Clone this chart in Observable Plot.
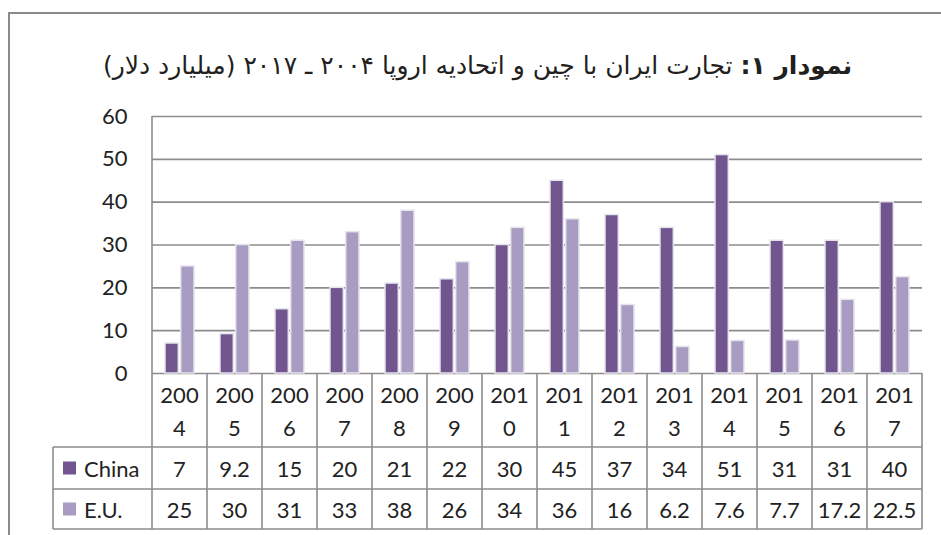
<!DOCTYPE html>
<html><head><meta charset="utf-8">
<script src="https://cdn.jsdelivr.net/npm/d3@7"></script>
<script src="https://cdn.jsdelivr.net/npm/@observablehq/plot@0.6"></script>
<style>
body{margin:0;background:#fff;}
#wrap{position:relative;width:941px;height:535px;overflow:hidden;background:#fff;}
#frame{position:absolute;left:8px;top:12px;width:940px;height:530px;border-left:2px solid #8a8a8a;border-top:2px solid #8a8a8a;}
#title{position:absolute;left:7px;width:941px;top:49px;line-height:34px;text-align:center;direction:rtl;font-family:"DejaVu Sans",sans-serif;font-size:25px;color:#231f20;white-space:nowrap;}
#chart{position:absolute;left:0;top:90px;}
</style></head>
<body>
<div id="wrap">
  <div id="frame"></div>
  <div id="title"><b>نمودار ۱:</b> تجارت ایران با چین و اتحادیه اروپا ۲۰۰۴ ـ ۲۰۱۷ (میلیارد دلار)</div>
  <div id="chart"></div>
</div>
<script>
const years = ["2004","2005","2006","2007","2008","2009","2010","2011","2012","2013","2014","2015","2016","2017"];
const china = [7, 9.2, 15, 20, 21, 22, 30, 45, 37, 34, 51, 31, 31, 40];
const eu = [25, 30, 31, 33, 38, 26, 34, 36, 16, 6.2, 7.6, 7.7, 17.2, 22.5];
const seriesNames = ["China", "E.U."];
const seriesColors = ["#71558f", "#a99cc2"];
const yTicks = [0, 10, 20, 30, 40, 50, 60];

const table = years.map((year, i) => ({year, china: china[i], eu: eu[i]}));

const gridColor = "#8c8c8c";
const plot = Plot.plot({
  width: 941,
  height: 445,
  marginTop: 26,
  marginLeft: 152,
  marginRight: 19,
  marginBottom: 162,
  style: {fontFamily: "Lato, sans-serif", fontSize: "22px", color: "#222", background: "transparent", overflow: "visible"},
  x: {domain: years, padding: 0, axis: null},
  y: {domain: [0, 60], ticks: yTicks, tickSize: 0, tickPadding: 25, label: null},
  marks: [
    Plot.ruleY(yTicks, {stroke: gridColor, strokeWidth: 1.6}),
    Plot.barY(table, {x: "year", y: "china", fill: seriesColors[0], stroke: "#e6e4ec", strokeWidth: 1.5, insetLeft: 13, insetRight: 28.7}),
    Plot.barY(table, {x: "year", y: "eu", fill: seriesColors[1], stroke: "#e6e4ec", strokeWidth: 1.5, insetLeft: 28.7, insetRight: 13})
  ]
});
document.getElementById("chart").appendChild(plot);

// data table under the chart, aligned with Plot's x scale
const xs = plot.scale("x"), ys = plot.scale("y");
const bw = xs.bandwidth;
const y0 = ys.apply(0), yTop = ys.apply(60);
const left = xs.apply(years[0]), right = xs.apply(years[years.length - 1]) + bw;
const legendLeft = 53;
const rowLines = [74, 116, 156];
const svg = d3.select(plot);
const g = svg.append("g").attr("stroke", gridColor).attr("stroke-width", 1.6);
// left axis line
g.append("line").attr("x1", left).attr("x2", left).attr("y1", yTop).attr("y2", y0);
rowLines.forEach(r => g.append("line").attr("x1", legendLeft).attr("x2", right).attr("y1", y0 + r).attr("y2", y0 + r));
years.forEach(yr => {
  const xl = xs.apply(yr);
  g.append("line").attr("x1", xl).attr("x2", xl).attr("y1", y0).attr("y2", y0 + rowLines[2]);
});
g.append("line").attr("x1", right).attr("x2", right).attr("y1", y0).attr("y2", y0 + rowLines[2]);
g.append("line").attr("x1", legendLeft).attr("x2", legendLeft).attr("y1", y0 + rowLines[0]).attr("y2", y0 + rowLines[2]);

const t = svg.append("g").attr("font-family", "Lato, sans-serif").attr("font-size", 22).attr("fill", "#222")
  .attr("text-anchor", "middle").attr("dominant-baseline", "central");
table.forEach(d => {
  const cx = xs.apply(d.year) + bw / 2;
  t.append("text").attr("x", cx).attr("y", y0 + 21).text(d.year.slice(0, 3));
  t.append("text").attr("x", cx).attr("y", y0 + 54).text(d.year.slice(3));
  t.append("text").attr("x", cx).attr("y", y0 + 95).text(String(d.china));
  t.append("text").attr("x", cx).attr("y", y0 + 136).text(String(d.eu));
});
const legendY = [95, 136];
seriesNames.forEach((name, i) => {
  svg.append("rect").attr("x", 63).attr("y", y0 + legendY[i] - 6.5).attr("width", 13).attr("height", 13).attr("fill", seriesColors[i]).attr("stroke", "none");
  svg.append("text").attr("x", 84).attr("y", y0 + legendY[i]).attr("dominant-baseline", "central").attr("text-anchor", "start")
    .attr("font-family", "Lato, sans-serif").attr("font-size", 22).attr("fill", "#222").text(name);
});
</script>
</body></html>
